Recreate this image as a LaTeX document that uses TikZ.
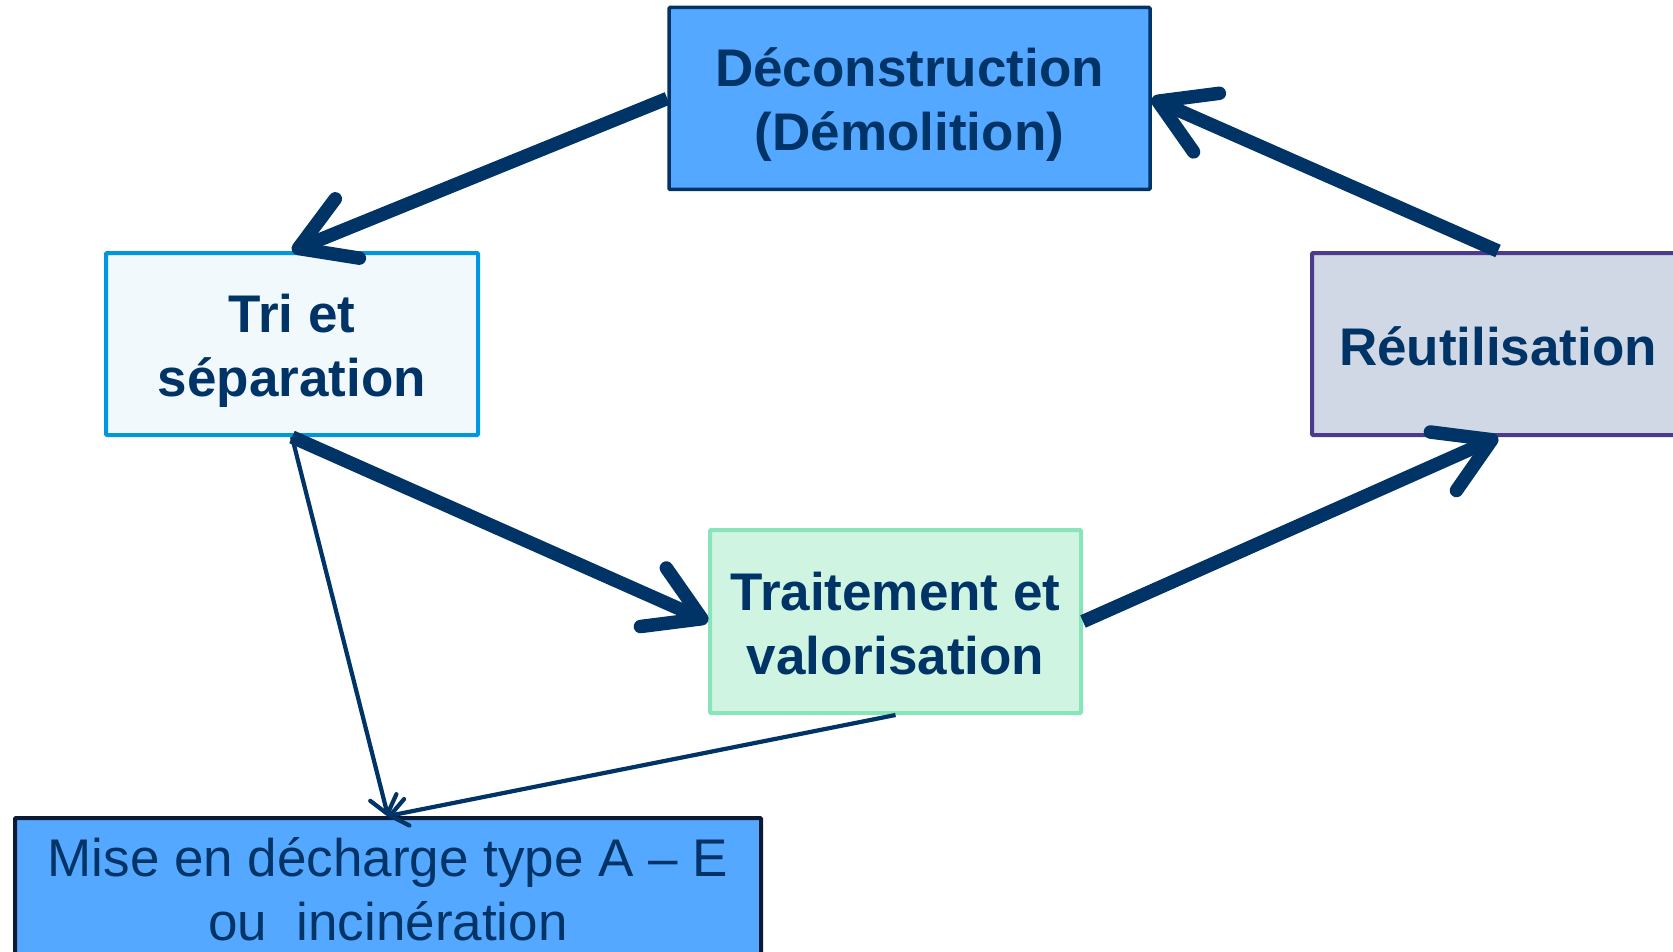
\documentclass[tikz,border=0pt]{standalone}
\usepackage{fontspec}
\setmainfont{Liberation Sans}
\usetikzlibrary{arrows.meta}
\definecolor{navy}{RGB}{0,51,102}
\definecolor{deconfill}{RGB}{85,168,255}
\definecolor{trifill}{RGB}{242,249,253}
\definecolor{tridraw}{RGB}{0,150,224}
\definecolor{reutfill}{RGB}{207,216,228}
\definecolor{reutdraw}{RGB}{78,58,138}
\definecolor{traitfill}{RGB}{207,245,226}
\definecolor{traitdraw}{RGB}{138,228,186}
\definecolor{dechdraw}{RGB}{11,27,53}
\tikzset{
  box/.style={draw, rectangle, inner sep=0pt, line width=4pt, rounded corners=1pt},
  boxtext/.style={inner sep=0pt, align=center, text=navy,
    font=\bfseries\fontsize{53}{64}\selectfont},
  bigarrow/.style={draw=navy, line width=13.5pt, line cap=butt,
    -{Straight Barb[length=53pt,width=64pt,round]}},
  thinarrow/.style={draw=navy, line width=4.2pt, line cap=butt,
    -{Straight Barb[length=17pt,width=27pt,round]}}
}
\begin{document}
\begin{tikzpicture}[x=1pt,y=-1pt]
\clip (0,0) rectangle (1673,952);
\useasboundingbox (0,0) rectangle (1673,952);
\fill[white] (0,0) rectangle (1673,952);

\node[box, fill=deconfill, draw=navy, line width=3.5pt,
  minimum width=481pt, minimum height=182pt] (decon) at (909.5,98.5) {};
\node[boxtext] (decontext) at (909.5,105) {Déconstruction\\(Démolition)};

\node[box, fill=trifill, draw=tridraw,
  minimum width=372pt, minimum height=182pt] (tri) at (292,344) {};
\node[boxtext] (tritext) at (292,350.5) {Tri et\\séparation};

\node[box, fill=reutfill, draw=reutdraw,
  minimum width=372pt, minimum height=182pt] (reut) at (1498,344) {};
\node[boxtext] (reuttext) at (1498,346) {Réutilisation};

\node[box, fill=traitfill, draw=traitdraw,
  minimum width=371pt, minimum height=183pt] (trait) at (895.5,621.5) {};
\node[boxtext] (traittext) at (895.5,623.5) {Traitement et\\valorisation};

\node[box, fill=deconfill, draw=dechdraw,
  minimum width=746pt, minimum height=146pt] (dech) at (388,891) {};
\node[boxtext, font=\fontsize{53}{64}\selectfont] (dechtext) at (388,889)
  {Mise en décharge type A – E\\ou\ \ incinération};

\draw[bigarrow] (decon.west) -- (tri.north);
\draw[bigarrow] (reut.north) -- (decon.east);
\draw[bigarrow] (tri.south) -- (trait.west);
\draw[bigarrow] (trait.east) -- (reut.south);
\draw[thinarrow] (tri.south) -- (dech.north);
\draw[thinarrow] (trait.south) -- (dech.north);
\end{tikzpicture}
\end{document}
